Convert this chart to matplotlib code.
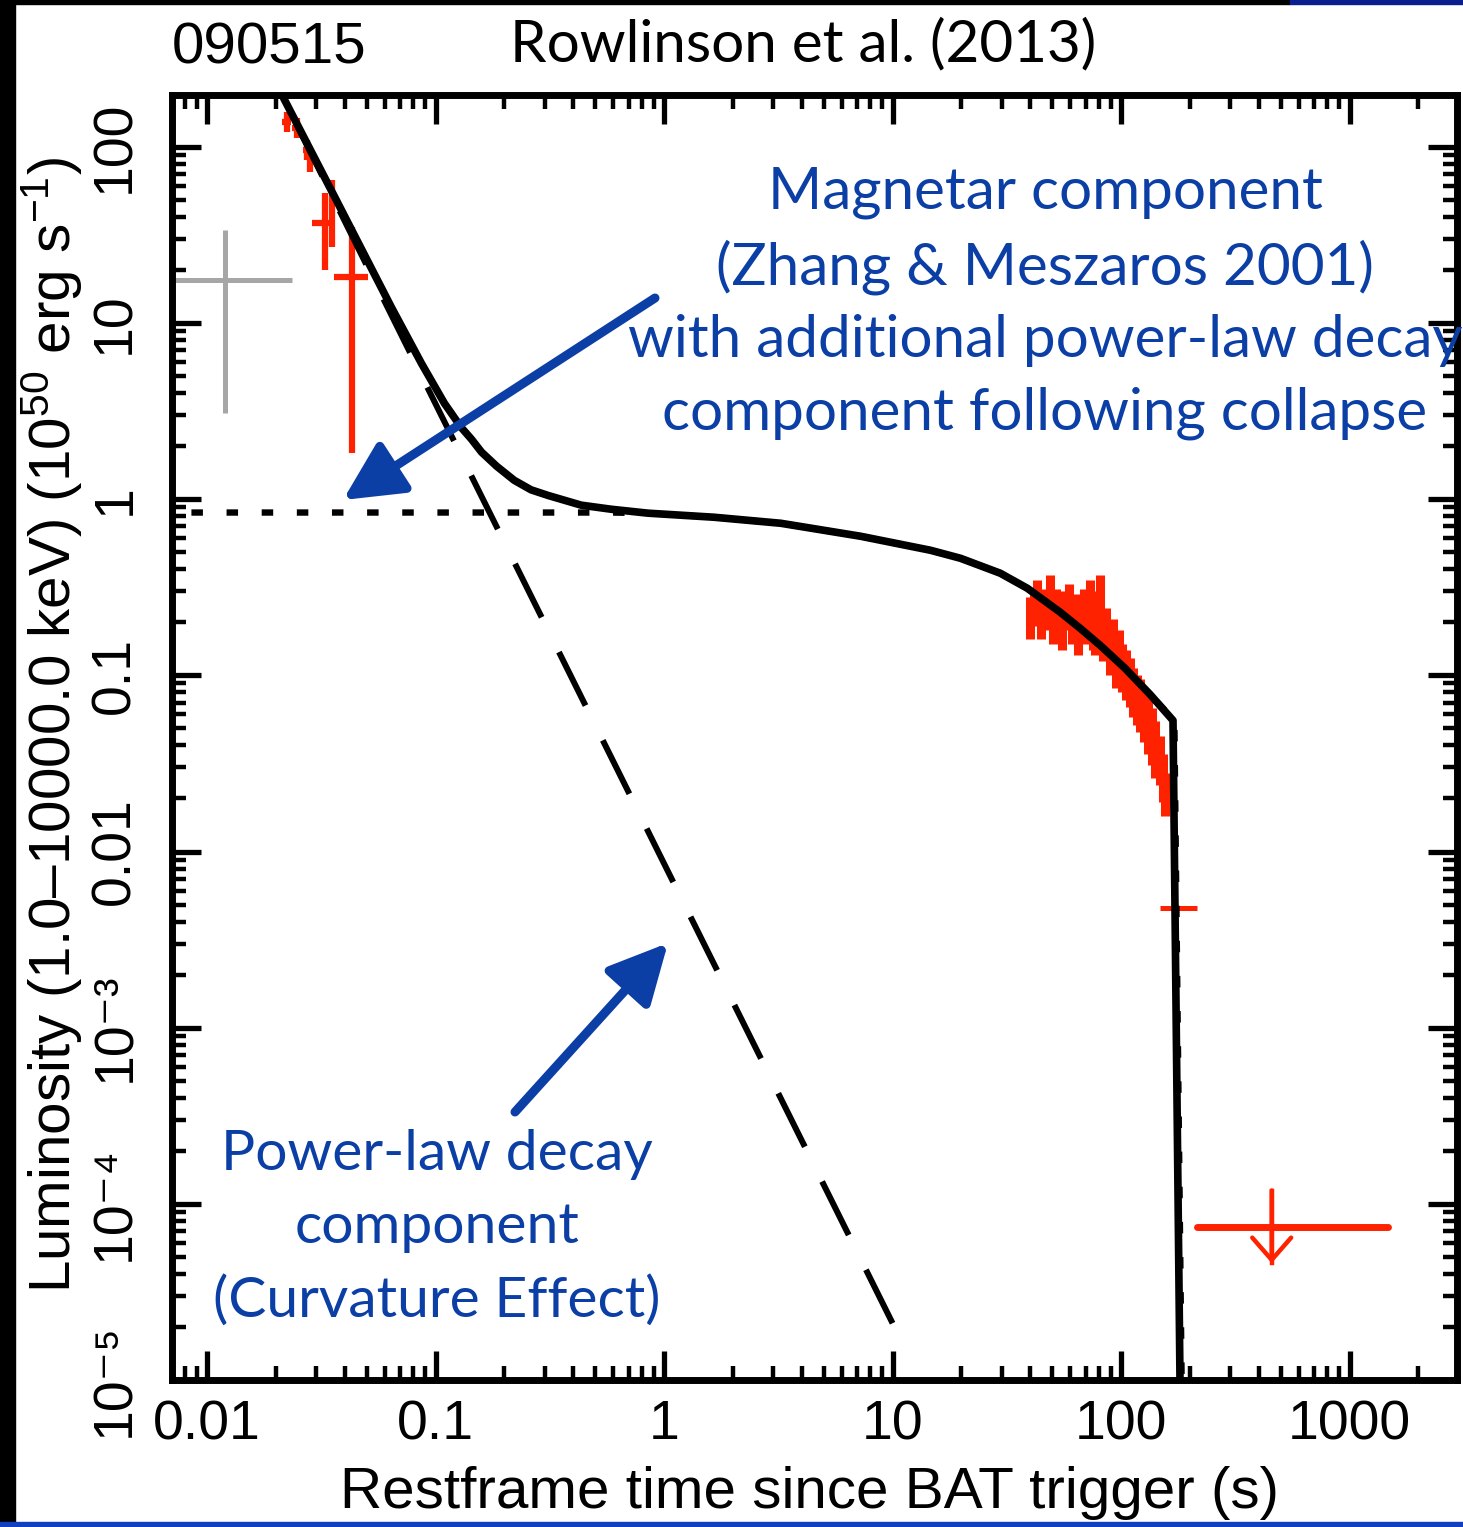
import numpy as np
import matplotlib.pyplot as plt
from matplotlib.patches import Rectangle
from matplotlib.ticker import LogLocator, NullFormatter, FixedLocator

W, H, DPI = 1463, 1527, 100

plt.rcParams['font.family'] = ['Liberation Sans', 'DejaVu Sans']
plt.rcParams['mathtext.fontset'] = 'custom'
plt.rcParams['mathtext.rm'] = 'Liberation Sans'
plt.rcParams['mathtext.it'] = 'Liberation Sans:italic'
plt.rcParams['mathtext.bf'] = 'Liberation Sans:bold'

BLUE = '#0b3fa6'
RED = '#ff2200'
GREY = '#a6a6a6'
GILL = ['Lato', 'DejaVu Sans']

# ------------------------------------------------------------------
# values (t in s, L in 1e50 erg/s)
# ------------------------------------------------------------------
model_t = [0.0213, 0.0362, 0.0643, 0.0868, 0.1094, 0.1297, 0.1437, 0.159, 0.185, 0.221,
           0.262, 0.311, 0.434, 0.587, 0.851, 1.653, 3.243, 7.25, 14.65, 19.82,
           29.6, 38.9, 54.2, 66.2, 81.0, 104.1, 133.8, 168.7, 181, 183]
model_L = [197, 52, 12.2, 5.9, 3.5, 2.55, 2.19, 1.85, 1.54, 1.28,
           1.13, 1.05, 0.925, 0.877, 0.833, 0.790, 0.730, 0.616, 0.513, 0.462,
           0.380, 0.312, 0.228, 0.185, 0.148, 0.1096, 0.078, 0.0555, 1.0e-5, 5e-6]

# power-law (curvature effect) component, listed from its lower end
pl_t = [10.0, 0.0213]
pl_L = [2.1e-5, 197]

# magnetar component
mag_t = [0.006, 0.434, 0.587, 0.851, 1.653, 3.243, 7.25, 14.65, 19.82, 29.6, 38.9,
         54.2, 66.2, 81.0, 104.1, 133.8, 171, 184, 186]
mag_L = [0.84, 0.84, 0.84, 0.833, 0.790, 0.730, 0.616, 0.513, 0.462, 0.380, 0.312,
         0.228, 0.185, 0.148, 0.1096, 0.078, 0.0555, 1.0e-5, 5e-6]

# BAT point (grey)
bat_t, bat_L = [0.012], [17.5]
bat_tlo, bat_thi = [0.0068], [0.0235]
bat_Llo, bat_Lhi = [3.08], [33.7]

# early XRT points
xe_t   = [0.0223, 0.0247, 0.0273, 0.0281, 0.0327, 0.0351, 0.043]
xe_L   = [139, 128, 96, 82, 37, 41, 18.2]
xe_tlo = [0.0213, 0.0236, 0.0263, 0.0274, 0.0288, 0.0343, 0.0359]
xe_thi = [0.0233, 0.0258, 0.0283, 0.0288, 0.0351, 0.0359, 0.0509]
xe_Llo = [122, 112, 84, 72, 20, 27, 1.82]
xe_Lhi = [158, 145, 110, 94, 55, 65, 35]

# late XRT points (plateau end / collapse)
xl_t = [40.0, 41.5, 43.0, 44.5, 46.0, 47.5, 49.0, 50.5, 52.0, 53.5, 55.0, 57.0,
        59.0, 61.0, 63.0, 65.0, 67.0, 69.0, 71.0, 73.0, 75.0, 77.0, 79.0, 81.0,
        83.5, 86.0, 89.0, 92.0, 95.0, 98.0, 101, 105, 109, 113, 117, 121,
        126, 131, 136, 141, 148, 152, 156]
xl_L = [0.22, 0.24, 0.27, 0.21, 0.25, 0.23, 0.28, 0.20, 0.24, 0.22, 0.19, 0.23,
        0.25, 0.20, 0.22, 0.18, 0.21, 0.24, 0.20, 0.26, 0.19, 0.17, 0.22, 0.26,
        0.16, 0.18, 0.14, 0.15, 0.12, 0.13, 0.11, 0.10, 0.092, 0.082, 0.075, 0.070,
        0.062, 0.054, 0.046, 0.038, 0.033, 0.026, 0.021]
xl_Llo = [0.16, 0.19, 0.21, 0.16, 0.20, 0.18, 0.22, 0.15, 0.19, 0.17, 0.14, 0.18,
          0.19, 0.15, 0.17, 0.13, 0.16, 0.18, 0.15, 0.20, 0.14, 0.13, 0.16, 0.19,
          0.12, 0.13, 0.10, 0.11, 0.085, 0.095, 0.08, 0.072, 0.066, 0.058, 0.052, 0.048,
          0.042, 0.036, 0.031, 0.026, 0.024, 0.019, 0.016]
xl_Lhi = [0.28, 0.30, 0.35, 0.27, 0.31, 0.29, 0.37, 0.26, 0.31, 0.28, 0.25, 0.30,
          0.33, 0.26, 0.29, 0.24, 0.28, 0.31, 0.27, 0.35, 0.25, 0.23, 0.30, 0.37,
          0.21, 0.24, 0.19, 0.21, 0.17, 0.18, 0.15, 0.14, 0.125, 0.11, 0.10, 0.095,
          0.085, 0.075, 0.065, 0.055, 0.045, 0.036, 0.028]

# single late point and upper limit
lp_t, lp_L = [172], [0.0048]
lp_tlo, lp_thi, lp_Llo, lp_Lhi = [148], [215], [0.0038], [0.0062]
ul_t, ul_L = 456, 7.4e-5
ul_tlo, ul_thi = 215, 1466
ul_top, ul_bot = 1.19e-4, 4.6e-5

xticks = [0.01, 0.1, 1, 10, 100, 1000]
xtick_labels = ['0.01', '0.1', '1', '10', '100', '1000']
yticks = [1e-5, 1e-4, 1e-3, 0.01, 0.1, 1, 10, 100]
ytick_labels = ['10\u207b\u2075', '10\u207b\u2074', '10\u207b\u00b3', '0.01', '0.1', '1', '10', '100']


def px(x, y):
    return x / W, 1 - y / H


def asym(v, lo, hi):
    v = np.array(v, float)
    return [v - np.array(lo), np.array(hi) - v]


fig = plt.figure(figsize=(W / DPI, H / DPI), dpi=DPI)
ax = fig.add_axes([172 / W, 1 - 1380 / H, (1457 - 172) / W, (1380 - 95) / H])
ax.set_xscale('log')
ax.set_yscale('log')
ax.set_xlim(0.00703, 2950)
ax.set_ylim(1e-5, 197)

# data
ax.errorbar(bat_t, bat_L, xerr=asym(bat_t, bat_tlo, bat_thi), yerr=asym(bat_L, bat_Llo, bat_Lhi),
            fmt='none', ecolor=GREY, elinewidth=3.6, capsize=0, zorder=2)
ax.errorbar(xe_t, xe_L, xerr=asym(xe_t, xe_tlo, xe_thi), yerr=asym(xe_L, xe_Llo, xe_Lhi),
            fmt='none', ecolor=RED, elinewidth=4.5, capsize=0, zorder=2)
xl_t_arr = np.array(xl_t)
ax.errorbar(xl_t, xl_L, xerr=[xl_t_arr * 0.03, xl_t_arr * 0.03], yerr=asym(xl_L, xl_Llo, xl_Lhi),
            fmt='none', ecolor=RED, elinewidth=6.5, capsize=0, zorder=2)
ax.errorbar(lp_t, lp_L, xerr=asym(lp_t, lp_tlo, lp_thi), yerr=asym(lp_L, lp_Llo, lp_Lhi),
            fmt='none', ecolor=RED, elinewidth=3.6, capsize=0, zorder=2)
ax.plot([ul_tlo, ul_thi], [ul_L, ul_L], color=RED, lw=5, solid_capstyle='round', zorder=2)
ax.plot([ul_t, ul_t], [ul_top, ul_bot], color=RED, lw=3.2, zorder=2)
ax.annotate('', xy=(ul_t, ul_bot), xytext=(ul_t, ul_top),
            arrowprops=dict(arrowstyle='->,head_length=0.8,head_width=0.7', color=RED, lw=3.2,
                            shrinkA=0, shrinkB=0, mutation_scale=20), zorder=2)

# model
ax.plot(pl_t, pl_L, color='black', lw=4.3, dashes=(10, 6.5), zorder=3)
ax.plot(mag_t, mag_L, color='black', lw=4.6, dashes=(1.8, 3.7), zorder=3)
ax.plot(model_t, model_L, color='black', lw=5.5, zorder=4, solid_joinstyle='round')

# axes style
for s in ax.spines.values():
    s.set_linewidth(5)
ax.xaxis.set_major_locator(FixedLocator(xticks))
ax.set_xticklabels(xtick_labels)
ax.yaxis.set_major_locator(FixedLocator(yticks))
ax.set_yticklabels(ytick_labels)
for axis in (ax.xaxis, ax.yaxis):
    axis.set_minor_locator(LogLocator(base=10, subs=np.arange(2, 10), numticks=100))
    axis.set_minor_formatter(NullFormatter())
ax.tick_params(which='both', direction='in', top=True, right=True, color='black')
ax.tick_params(which='major', length=21, width=3.8, labelsize=40)
ax.tick_params(which='minor', length=10, width=3.2)
ax.tick_params(axis='x', which='major', pad=14)
ax.tick_params(axis='y', which='major', pad=22, labelrotation=90)
for lab in ax.get_yticklabels():
    lab.set_va('center')

ax.set_xlabel('Restframe time since BAT trigger (s)', fontsize=42)
ax.xaxis.set_label_coords(0.496, -0.088)
ax.xaxis.label.set_va('center')
ax.set_ylabel('Luminosity (1.0\u201310000.0 keV) (10$^{50}$ erg s$^{-1}$)', fontsize=42)
ax.yaxis.set_label_coords(-0.093, 0.51)
ax.yaxis.label.set_va('center')

# title texts
fig.text(*px(172, 48), '090515', fontsize=42, ha='left', va='center')
fig.text(*px(803, 45), 'Rowlinson et al. (2013)', fontsize=42, ha='center', va='center', family=GILL)

# annotations
fig.text(*px(1045, 303), 'Magnetar component\n(Zhang & Meszaros 2001)\nwith additional power-law decay\n'
         'component following collapse', fontsize=42, color=BLUE, ha='center', va='center',
         linespacing=1.45, family=GILL)
fig.text(*px(437, 1228), 'Power-law decay\ncomponent\n(Curvature Effect)', fontsize=41, color=BLUE,
         ha='center', va='center', linespacing=1.53, family=GILL)

arrow_kw = dict(arrowstyle='-|>,head_length=0.9,head_width=0.45', color=BLUE, lw=6.5,
                mutation_scale=40, shrinkA=0, shrinkB=0)
fig.add_artist(plt.Annotation('', xy=px(343, 500), xytext=px(655, 298), xycoords='figure fraction',
                              textcoords='figure fraction', arrowprops=arrow_kw))
fig.add_artist(plt.Annotation('', xy=px(668, 943), xytext=px(515, 1112), xycoords='figure fraction',
                              textcoords='figure fraction', arrowprops=arrow_kw))

# slide border remnants
fig.add_artist(Rectangle((0, 0), 15 / W, 1, transform=fig.transFigure, color='black', zorder=10))
fig.add_artist(Rectangle((0, 1 - 4 / H), 1290 / W, 4 / H, transform=fig.transFigure, color='black', zorder=10))
fig.add_artist(Rectangle((1290 / W, 1 - 4 / H), 1, 4 / H, transform=fig.transFigure, color='#0a1f8f', zorder=10))
fig.add_artist(Rectangle((0, 0), 1, 5 / H, transform=fig.transFigure, color='#1040c0', zorder=10))

fig.savefig('out.png', dpi=DPI)
